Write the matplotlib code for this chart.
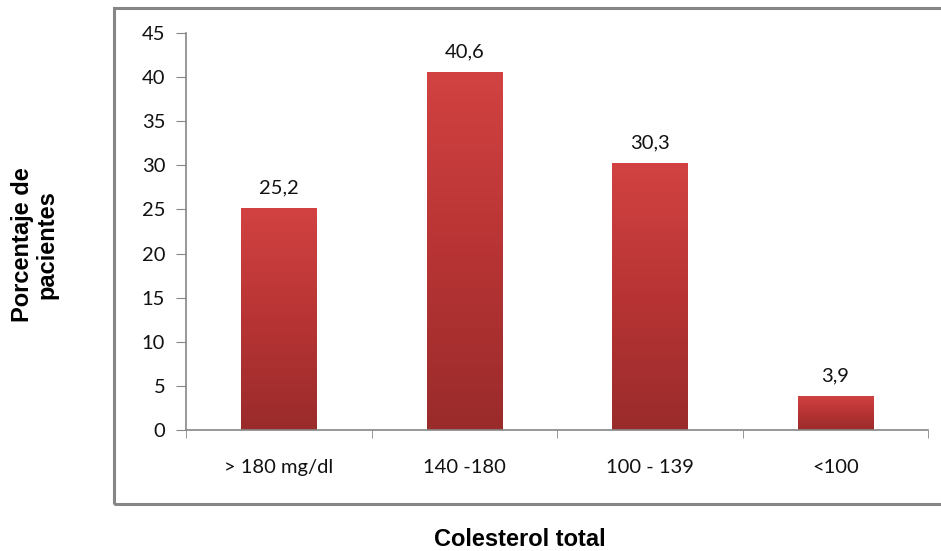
import matplotlib.pyplot as plt
import numpy as np
from matplotlib.colors import LinearSegmentedColormap
from matplotlib.patches import Rectangle

categories = ["> 180 mg/dl", "140 -180", "100 - 139", "<100"]
values = [25.2, 40.6, 30.3, 3.9]
value_labels = ["25,2", "40,6", "30,3", "3,9"]
yticks = [0, 5, 10, 15, 20, 25, 30, 35, 40, 45]

W, H = 941, 551
fig = plt.figure(figsize=(W / 100, H / 100), dpi=100)

# outer chart frame (runs off the right edge)
fig.patches.append(Rectangle((114 / W, 1 - 504 / H), 900 / W, (504 - 8) / H,
                             transform=fig.transFigure, fill=False,
                             edgecolor="#868686", linewidth=2.2))

ax = fig.add_axes([186 / W, 1 - 430 / H, (928 - 186) / W, (430 - 33) / H])
ax.set_xlim(-0.5, 3.5)
ax.set_ylim(0, 45)

cmap = LinearSegmentedColormap.from_list("bar", ["#9a2b2b", "#b83434", "#d24242"])
grad = np.linspace(0, 1, 256).reshape(-1, 1)
width = 0.405
x = np.arange(len(categories))
bars = ax.bar(x, values, width=width, color="none", edgecolor="none", zorder=2)
for b in bars:
    x0, y0 = b.get_x(), b.get_y()
    w, h = b.get_width(), b.get_height()
    # soft shadow
    ax.add_patch(Rectangle((x0 + 0.006, y0), w, h - 0.15, facecolor="#000000",
                           alpha=0.12, edgecolor="none", zorder=1))
    im = ax.imshow(grad, extent=(x0, x0 + w, y0, y0 + h), origin="lower",
                   cmap=cmap, aspect="auto", zorder=2)
    im.set_clip_path(b)

for xi, v, lab in zip(x, values, value_labels):
    ax.annotate(lab, (xi, v), xytext=(0, 8), textcoords="offset points",
                ha="center", va="bottom", fontsize=14.5, family="Lato",
                color="#111111")

ax.set_yticks(yticks)
ax.set_yticklabels([str(t) for t in yticks], fontsize=14.5, family="Lato",
                   color="#111111")
ax.set_xticks(x)
ax.set_xticklabels(categories, fontsize=14.5, family="Lato", color="#111111")
ax.tick_params(axis="x", length=0, pad=21)
ax.set_xticks(np.arange(-0.5, 4, 1), minor=True)
ax.tick_params(axis="x", which="minor", length=6, color="#868686", direction="out")
ax.tick_params(axis="y", length=7, color="#868686", pad=8)

for s in ["top", "right"]:
    ax.spines[s].set_visible(False)
for s in ["left", "bottom"]:
    ax.spines[s].set_color("#868686")
    ax.spines[s].set_linewidth(1.2)

fig.text(520 / W, 1 - 540 / H, "Colesterol total", ha="center", va="center",
         fontsize=17, fontweight="bold", family="Liberation Sans")
fig.text(35 / W, 1 - 245 / H, "Porcentaje de\npacientes", ha="center", va="center",
         rotation=90, fontsize=17, fontweight="bold", family="Liberation Sans",
         linespacing=1.1)

fig.savefig("out.png", dpi=100)
